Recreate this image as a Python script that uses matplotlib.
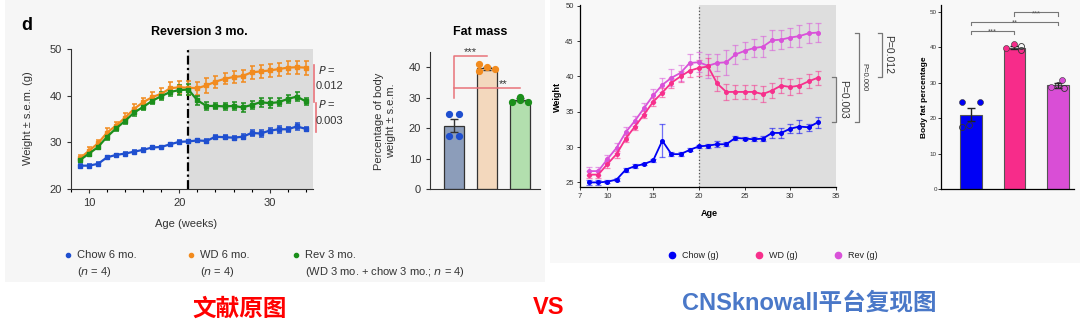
import numpy as np
import matplotlib
matplotlib.use("Agg")
import matplotlib.pyplot as plt
from matplotlib.patches import Rectangle

plt.rcParams['font.family'] = ['Liberation Sans', 'DejaVu Sans']

# ---------------- data: original (left) ----------------
weeks_orig = list(range(9, 35))
chow_orig = [25.0, 25.0, 25.4, 26.8, 27.3, 27.6, 28.0, 28.4, 28.9, 29.0, 29.6, 30.1, 30.2,
             30.4, 30.3, 31.2, 31.1, 31.0, 31.2, 32.0, 31.9, 32.5, 32.8, 32.8, 33.4, 32.9]
chow_orig_sem = [0.3, 0.3, 0.3, 0.3, 0.3, 0.3, 0.3, 0.3, 0.3, 0.3, 0.3, 0.3, 0.4,
                 0.4, 0.4, 0.4, 0.4, 0.4, 0.5, 0.7, 0.7, 0.6, 0.8, 0.5, 0.7, 0.4]
wd_orig = [26.6, 28.2, 29.8, 32.1, 33.6, 35.3, 37.2, 38.6, 39.7, 40.4, 41.6, 41.8, 41.7,
           41.6, 42.2, 43.0, 43.6, 44.0, 44.2, 45.0, 45.2, 45.4, 45.7, 46.0, 46.1, 46.0]
wd_orig_sem = [0.6, 0.7, 0.8, 0.9, 0.8, 0.9, 1.0, 1.0, 1.1, 1.2, 1.3, 1.4, 1.5,
               1.4, 1.6, 1.3, 1.2, 1.3, 1.3, 1.4, 1.4, 1.3, 1.4, 1.4, 1.4, 1.5]
rev_orig = [26.2, 27.6, 29.0, 31.2, 33.0, 34.6, 36.4, 37.6, 38.9, 39.9, 40.8, 41.2, 41.3,
            39.0, 37.8, 37.8, 37.7, 37.8, 37.5, 38.0, 38.6, 38.4, 38.6, 39.3, 39.8, 38.8]
rev_orig_sem = [0.4, 0.5, 0.5, 0.6, 0.6, 0.6, 0.7, 0.7, 0.7, 0.8, 0.9, 1.0, 1.1,
                1.0, 0.9, 0.7, 0.8, 0.8, 1.0, 0.8, 1.0, 1.0, 0.9, 0.8, 0.9, 0.7]

fat_groups_orig = ['Chow', 'WD', 'Rev']
fat_mean_orig = [20.8, 39.6, 29.3]
fat_sem_orig = [2.1, 0.6, 0.5]
fat_pts_orig = [[24.5, 24.5, 17.5, 17.5], [41.0, 38.6, 40.0, 39.5], [28.5, 30.2, 29.1, 28.6]]
fat_jit_orig = [[-0.15, 0.15, -0.15, 0.15], [-0.25, -0.25, 0.0, 0.25], [-0.25, 0.0, 0.0, 0.25]]

# ---------------- data: reproduction (right) ----------------
weeks_rep = list(range(8, 34))
chow_rep = [25.0, 25.0, 25.1, 25.4, 26.8, 27.3, 27.6, 28.1, 30.9, 29.0, 29.0, 29.6, 30.1,
            30.2, 30.4, 30.4, 31.3, 31.2, 31.1, 31.2, 32.0, 32.0, 32.6, 32.9, 32.8, 33.5]
chow_rep_sem = [0.3, 0.3, 0.2, 0.2, 0.3, 0.3, 0.2, 0.2, 2.3, 0.3, 0.3, 0.2, 0.2,
                0.3, 0.4, 0.3, 0.3, 0.2, 0.3, 0.4, 0.7, 0.7, 0.6, 0.9, 0.5, 0.8]
wd_rep = [26.1, 26.1, 27.6, 29.0, 31.2, 32.9, 34.6, 36.4, 37.7, 39.1, 40.0, 40.8, 41.2,
          41.4, 39.0, 37.8, 37.8, 37.8, 37.8, 37.5, 38.0, 38.7, 38.5, 38.7, 39.3, 39.8]
wd_rep_sem = [0.5, 0.5, 0.5, 0.5, 0.5, 0.5, 0.5, 0.6, 0.6, 0.7, 0.8, 0.9, 1.1,
              1.2, 1.0, 1.1, 1.0, 1.0, 1.0, 1.1, 1.1, 1.1, 1.2, 1.1, 1.0, 1.0]
rev_rep = [26.6, 26.6, 28.3, 29.9, 32.1, 33.7, 35.5, 37.3, 38.8, 39.8, 40.5, 41.9, 42.0,
           41.5, 41.9, 42.0, 43.1, 43.6, 44.0, 44.2, 45.1, 45.2, 45.5, 45.7, 46.1, 46.2]
rev_rep_sem = [0.6, 0.6, 0.6, 0.7, 0.7, 0.7, 0.8, 0.9, 1.0, 1.2, 1.1, 1.2, 1.4,
               1.7, 1.2, 1.8, 1.3, 1.2, 1.3, 1.5, 1.4, 1.3, 1.3, 1.5, 1.4, 1.4]

fat_groups_rep = ['Chow', 'WD', 'Rev']
fat_mean_rep = [21.0, 39.9, 29.2]
fat_sem_rep = [1.9, 0.4, 0.6]
fat_pts_rep = [[24.4, 24.4, 17.5, 18.1], [41.0, 39.9, 40.3, 39.2], [30.8, 28.9, 29.2, 28.5]]
fat_jit_rep = [[-0.2, 0.2, -0.2, -0.05], [0.0, -0.2, 0.15, 0.15], [0.1, -0.15, 0.0, 0.15]]

W, H = 1080, 323
fig = plt.figure(figsize=(W / 100, H / 100), dpi=100)
fig.patch.set_facecolor('white')


def fx(x):
    return x / W


def fy(y):
    return 1 - y / H


def ax_px(l, t, r, b):
    return fig.add_axes([l / W, 1 - b / H, (r - l) / W, (b - t) / H])


# panel backgrounds
fig.patches.append(Rectangle((fx(5), fy(282)), 540 / W, 282 / H, transform=fig.transFigure,
                             facecolor='#f6f6f6', edgecolor='none', zorder=-10))
fig.patches.append(Rectangle((fx(550), fy(263)), 530 / W, 263 / H, transform=fig.transFigure,
                             facecolor='#f8f8f8', edgecolor='none', zorder=-10))

# ================= LEFT: original line chart =================
c_blue, c_orange, c_green = '#1f4fcf', '#f28b1e', '#1b8f1b'
ax1 = ax_px(71, 49, 313, 189)
ax1.set_facecolor('none')
ax1.set_xlim(8, 34.8)
ax1.set_ylim(20, 50)
ax1.axvspan(21, 34.8, color='#dcdcdc', zorder=0, lw=0)
ax1.axvline(21, color='black', ls=(0, (4, 1.5, 1, 1.5)), lw=1.6, zorder=1)
for y, e, c in [(wd_orig, wd_orig_sem, c_orange), (rev_orig, rev_orig_sem, c_green),
                (chow_orig, chow_orig_sem, c_blue)]:
    ax1.errorbar(weeks_orig, y, yerr=e, color=c, marker='s', ms=3.2, lw=1.6, elinewidth=1.1,
                 capsize=1.8, capthick=1.1, zorder=3)
ax1.set_xticks([10, 20, 30])
ax1.set_xticks(list(range(8, 35, 2)), minor=True)
ax1.set_yticks([20, 30, 40, 50])
ax1.tick_params(labelsize=8, colors='#333333', length=3, width=0.8)
ax1.tick_params(which='minor', length=2.5, width=0.8)
for s in ['top', 'right']:
    ax1.spines[s].set_visible(False)
for s in ['left', 'bottom']:
    ax1.spines[s].set_linewidth(0.8)
    ax1.spines[s].set_color('#333333')

fig.text(fx(21), fy(26), 'd', fontsize=13, fontweight='bold', ha='left', va='center')
fig.text(fx(199), fy(32), 'Reversion 3 mo.', fontsize=9, fontweight='bold', ha='center', va='center')
fig.text(fx(28), fy(118), 'Weight ± s.e.m. (g)', fontsize=8, rotation=90, ha='center', va='center', color='#333333')
fig.text(fx(186), fy(224), 'Age (weeks)', fontsize=8, ha='center', va='center', color='#333333')

# p-value brackets
red = '#e8737a'
ax1.plot([34.95, 34.95], [46.6, 38.7], color=red, lw=1.2, clip_on=False)
ax1.plot([35.15, 35.15], [38.4, 32.3], color=red, lw=1.2, clip_on=False)
fig.text(fx(318), fy(70), '$P$ =', fontsize=8, ha='left', va='center', color='#333333')
fig.text(fx(316), fy(86), '0.012', fontsize=8, ha='left', va='center', color='#333333')
fig.text(fx(318), fy(104), '$P$ =', fontsize=8, ha='left', va='center', color='#333333')
fig.text(fx(316), fy(121), '0.003', fontsize=8, ha='left', va='center', color='#333333')

# legend
for xd, c, l1, l2 in [(68, c_blue, 'Chow 6 mo.', '($n$ = 4)'),
                      (191, c_orange, 'WD 6 mo.', '($n$ = 4)'),
                      (296, c_green, 'Rev 3 mo.', '(WD 3 mo. + chow 3 mo.; $n$ = 4)')]:
    fig.lines.append(plt.Line2D([fx(xd)], [fy(255)], marker='o', ms=3, color=c, transform=fig.transFigure))
    fig.text(fx(xd + 9), fy(255), l1, fontsize=8, ha='left', va='center', color='#333333')
    fig.text(fx(xd + 9), fy(272), l2, fontsize=8, ha='left', va='center', color='#333333')

# ================= LEFT: original fat mass bars =================
ax2 = ax_px(430, 52, 540, 189)
ax2.set_facecolor('none')
ax2.set_xlim(-0.72, 2.6)
ax2.set_ylim(0, 45)
bar_cols = ['#8c9dba', '#f3d8bd', '#b2dfae']
dot_cols = [c_blue, c_orange, c_green]
xs = np.arange(3)
ax2.bar(xs, fat_mean_orig, width=0.6, color=bar_cols, edgecolor='#333333', lw=0.9, zorder=2)
ax2.errorbar(xs, fat_mean_orig, yerr=fat_sem_orig, fmt='none', ecolor='#333333', elinewidth=1,
             capsize=3, zorder=3)
for i in range(3):
    ax2.plot(xs[i] + np.array(fat_jit_orig[i]), fat_pts_orig[i], 'o', color=dot_cols[i], ms=4.2,
             zorder=4, clip_on=False)
ax2.set_xticks([])
ax2.set_yticks([0, 10, 20, 30, 40])
ax2.tick_params(labelsize=8, colors='#333333', length=3, width=0.8)
for s in ['top', 'right']:
    ax2.spines[s].set_visible(False)
for s in ['left', 'bottom']:
    ax2.spines[s].set_linewidth(0.8)
    ax2.spines[s].set_color('#333333')
ax2.plot([0, 0, 1], [30, 43.8, 43.8], color=red, lw=1.1, clip_on=False)
ax2.plot([0, 2], [33.2, 33.2], color=red, lw=1.1, clip_on=False)
ax2.text(0.5, 45.0, '***', fontsize=8, ha='center', va='center', color='#333333')
ax2.text(1.5, 34.6, '**', fontsize=8, ha='center', va='center', color='#333333')
fig.text(fx(480), fy(32), 'Fat mass', fontsize=9, fontweight='bold', ha='center', va='center')
fig.text(fx(385), fy(121), 'Percentage of body\nweight ± s.e.m.', fontsize=8, rotation=90,
         ha='center', va='center', color='#333333', linespacing=1.2)

# ================= RIGHT: reproduction line chart =================
r_blue, r_pink, r_mag = '#0000f5', '#f7308c', '#d952d9'
ax3 = ax_px(580, 5, 836, 187)
ax3.set_facecolor('none')
ax3.set_xlim(7, 35)
ax3.set_ylim(24.35, 50.1)
ax3.axvspan(20, 35, color='#dedede', zorder=0, lw=0)
ax3.axvline(20, color='#555555', ls=':', lw=0.9, zorder=1)
for y, e, c in [(rev_rep, rev_rep_sem, r_mag), (wd_rep, wd_rep_sem, r_pink),
                (chow_rep, chow_rep_sem, r_blue)]:
    ax3.errorbar(weeks_rep, y, yerr=e, color=c, marker='o', ms=2.6, lw=1.3, elinewidth=0.9,
                 capsize=2.5, capthick=0.9, ecolor=matplotlib.colors.to_rgba(c, 0.55), zorder=3)
ax3.set_xticks([7, 10, 15, 20, 25, 30, 35])
ax3.set_yticks([25, 30, 35, 40, 45, 50])
ax3.tick_params(labelsize=5.5, colors='#333333', length=2.5, width=0.7, pad=2)
for s in ['top', 'right']:
    ax3.spines[s].set_visible(False)
for s in ['left', 'bottom']:
    ax3.spines[s].set_linewidth(0.9)
fig.text(fx(557), fy(97), 'Weight', fontsize=6.5, fontweight='bold', rotation=90, ha='center', va='center')
fig.text(fx(709), fy(213), 'Age', fontsize=6.5, fontweight='bold', ha='center', va='center')

# brackets (vertical line, ticks pointing left, text to the right)
gray = '#777777'
for xb, y0, y1, txt, dx, fs in [(34.96, 39.9, 33.6, 'P=0.003', 0.85, 7.5),
                                 (37.5, 46.2, 33.6, 'P=0.000', 0.55, 5.5),
                                 (40.0, 46.2, 39.9, 'P=0.012', 0.75, 7.5)]:
    ax3.plot([xb - 0.38, xb, xb, xb - 0.38], [y0, y0, y1, y1], color=gray, lw=0.9, clip_on=False)
    ax3.text(xb + dx, (y0 + y1) / 2, txt, fontsize=fs, rotation=270, ha='center', va='center',
             color='#333333', clip_on=False)

# legend
for xd, c, l in [(672, r_blue, 'Chow (g)'), (759, r_pink, 'WD (g)'), (838, r_mag, 'Rev (g)')]:
    fig.lines.append(plt.Line2D([fx(xd)], [fy(255)], marker='o', ms=4.5, color=c, transform=fig.transFigure))
    fig.text(fx(xd + 10), fy(255), l, fontsize=6.5, ha='left', va='center', color='#222222')

# ================= RIGHT: reproduction bar chart =================
ax4 = ax_px(941, 5, 1074, 189)
ax4.set_facecolor('none')
ax4.set_xlim(-0.69, 2.37)
ax4.set_ylim(0, 51.9)
rbar = [r_blue, '#f72c8a', '#d94ed6']
ax4.bar(xs, fat_mean_rep, width=0.5, color=rbar, edgecolor='#555555', lw=0.8, zorder=2)
ax4.errorbar(xs, fat_mean_rep, yerr=fat_sem_rep, fmt='none', ecolor='#222222', elinewidth=1,
             capsize=3, zorder=3)
for i in range(3):
    xi = xs[i] + np.array(fat_jit_rep[i])
    yi = np.array(fat_pts_rep[i])
    ax4.plot(xi[:2], yi[:2], 'o', color=rbar[i], mec='#333333', mew=0.4, ms=4.3, zorder=4)
    ax4.plot(xi[2:], yi[2:], 'o', mfc='none', mec='#333333', mew=0.6, ms=4.3, zorder=4)
ax4.set_xticks([])
ax4.set_yticks([0, 10, 20, 30, 40, 50])
ax4.tick_params(labelsize=4.5, colors='#333333', length=2, width=0.7, pad=1)
for s in ['top', 'right']:
    ax4.spines[s].set_visible(False)
for s in ['left', 'bottom']:
    ax4.spines[s].set_linewidth(0.9)
for xa, xb2, yb, t in [(0, 1, 44.6, '***'), (0, 2, 47.1, '**'), (1, 2, 49.8, '***')]:
    ax4.plot([xa, xa, xb2, xb2], [yb - 0.9, yb, yb, yb - 0.9], color=gray, lw=0.8, clip_on=False)
    ax4.text((xa + xb2) / 2, yb - 0.3, t, fontsize=5.5, ha='center', va='center', color='#555555')
fig.text(fx(924), fy(97), 'Body fat percentage', fontsize=6, fontweight='bold', rotation=90,
         ha='center', va='center')

# ================= captions =================
cjk = ['Liberation Sans', 'Noto Sans CJK SC', 'DejaVu Sans']
fig.text(fx(240), fy(309), '文献原图', fontsize=17, fontweight='bold', color='#ff0000',
         ha='center', va='center', family=['Noto Sans CJK SC', 'DejaVu Sans'])
fig.text(fx(549), fy(307), 'VS', fontsize=17, fontweight='bold', color='#ff0000',
         ha='center', va='center', family=cjk)
fig.text(fx(809), fy(303), 'CNSknowall平台复现图', fontsize=17, fontweight='bold', color='#4a78c8',
         ha='center', va='center', family=cjk)

fig.savefig('out.png', dpi=100)
